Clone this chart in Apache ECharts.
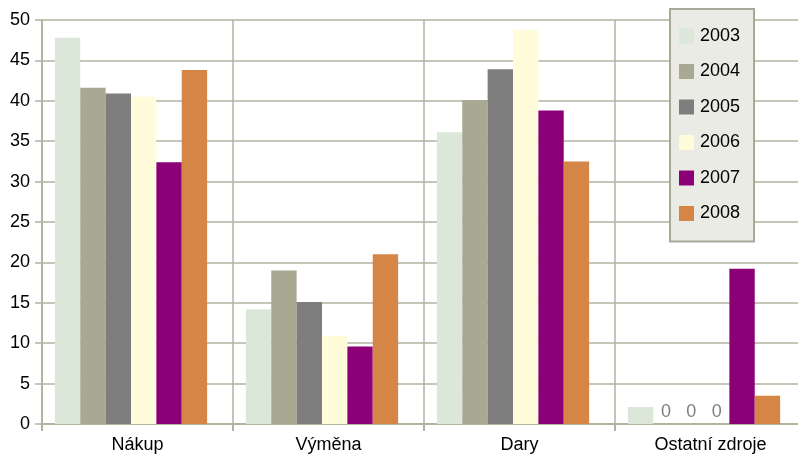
<!DOCTYPE html>
<html><head><meta charset="utf-8">
<script src="https://cdn.jsdelivr.net/npm/echarts@6/dist/echarts.min.js"></script>
<style>html,body{margin:0;padding:0;background:#fff;overflow:hidden}#c{width:806px;height:456px}</style>
</head><body><div id="c"></div>
<script>
var categories = ['Nákup', 'Výměna', 'Dary', 'Ostatní zdroje'];
var years = ['2003', '2004', '2005', '2006', '2007', '2008'];
var v2003 = [47.8, 14.2, 36.1, 2.1];
var v2004 = [41.6, 19.0, 40.1, 0];
var v2005 = [40.9, 15.1, 43.9, 0];
var v2006 = [40.5, 10.9, 48.8, 0];
var v2007 = [32.4, 9.6, 38.8, 19.2];
var v2008 = [43.8, 21.0, 32.5, 3.5];
var yTicks = [0, 5, 10, 15, 20, 25, 30, 35, 40, 45, 50];
var colors = ['#dae7d9', '#a9a893', '#7e7e7e', '#fffcdc', '#8b0077', '#d58546'];

var allValues = [v2003, v2004, v2005, v2006, v2007, v2008];
var gridColor = '#b2b2a0';
var font = 'Liberation Sans, Arial, sans-serif';

var series = years.map(function (y, i) {
  return {
    name: y, type: 'bar', xAxisIndex: 1, yAxisIndex: 1,
    barGap: '0%', barCategoryGap: '20.3%',
    itemStyle: { color: colors[i] },
    data: allValues[i].map(function (v) {
      if (v === 0) {
        return { value: v, label: { show: true, position: 'top', distance: 3,
          color: '#7f7f7f', fontSize: 18, fontFamily: font, formatter: '0' } };
      }
      return v;
    })
  };
});

var chart = echarts.init(document.getElementById('c'));
chart.setOption({
  animation: false,
  backgroundColor: '#ffffff',
  grid: [
    { left: 42, top: 20, right: 0, bottom: 32 },
    { left: 35.5, top: 20, right: 6.5, bottom: 32 }
  ],
  legend: {
    orient: 'vertical', left: 670, top: 9,
    data: years,
    itemWidth: 15, itemHeight: 15, itemGap: 17.5,
    padding: [18, 14, 19, 9],
    backgroundColor: '#ebebe5',
    borderColor: '#a8a898', borderWidth: 2,
    icon: 'rect',
    textStyle: { fontSize: 18, fontFamily: font, color: '#000', lineHeight: 17, padding: [0, 0, 0, 1] }
  },
  xAxis: [
    { type: 'category', gridIndex: 0, data: categories, boundaryGap: true,
      axisLine: { show: true, lineStyle: { color: gridColor, width: 2 } },
      axisTick: { show: true, length: 7, lineStyle: { color: gridColor, width: 2 } },
      splitLine: { show: true, lineStyle: { color: gridColor, width: 1.5 } },
      axisLabel: { fontSize: 18, fontFamily: font, color: '#000', margin: 12 } },
    { type: 'category', gridIndex: 1, data: categories, show: false }
  ],
  yAxis: [
    { type: 'value', gridIndex: 0, min: 0, max: 50, interval: 5,
      axisLine: { show: true, lineStyle: { color: gridColor, width: 2 } },
      axisTick: { show: true, length: 7, lineStyle: { color: gridColor, width: 1.5 } },
      splitLine: { show: true, lineStyle: { color: gridColor, width: 1.5 } },
      axisLabel: { fontSize: 18, fontFamily: font, color: '#000', margin: 12,
        formatter: function (v) { return yTicks.indexOf(v) >= 0 ? String(v) : ''; } } },
    { type: 'value', gridIndex: 1, min: 0, max: 50, interval: 5, show: false, splitLine: { show: false } }
  ],
  series: series
});
</script></body></html>
